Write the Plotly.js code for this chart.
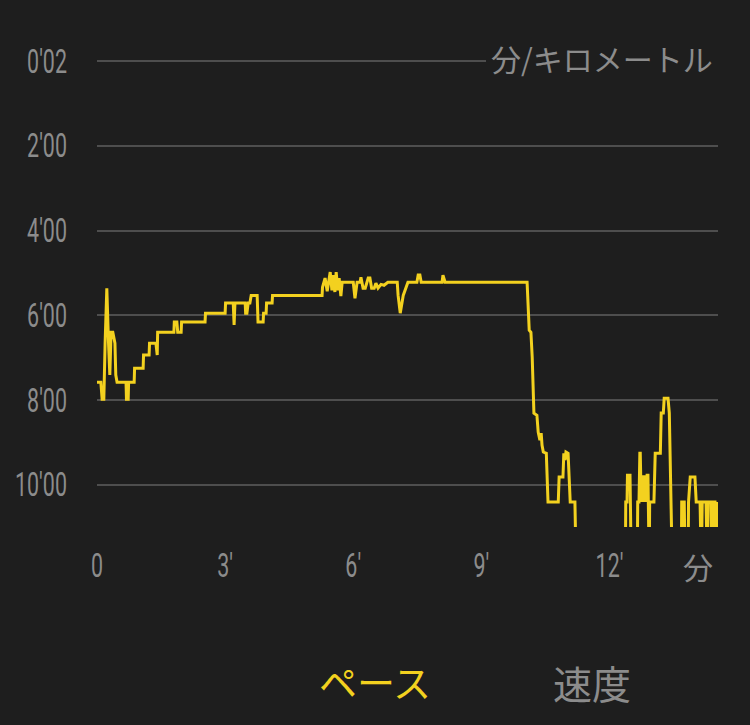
<!DOCTYPE html>
<html>
<head>
<meta charset="utf-8">
<script src="https://cdn.plot.ly/plotly-3.0.1.min.js"></script>
<style>
  html, body { margin: 0; padding: 0; background: #1e1e1e; }
  #chart { width: 750px; height: 725px; }
</style>
</head>
<body>
<div id="chart"></div>
<script>
// elapsed time (minutes)
const timeMin = [
  0, 0.09, 0.12, 0.16, 0.19, 0.23, 0.27, 0.30, 0.33, 0.37, 0.42, 0.44, 0.47,
  0.68, 0.69, 0.73, 0.74, 0.87, 0.88, 1.08, 1.09, 1.22, 1.23, 1.38, 1.41, 1.42,
  1.80, 1.81, 1.87, 1.89, 1.97, 1.98, 2.53, 2.54, 3.00, 3.01, 3.19, 3.21, 3.23,
  3.47, 3.48, 3.51, 3.54, 3.58, 3.61, 3.75, 3.77, 3.89, 3.90, 3.96, 3.97, 4.10, 4.11,
  5.27, 5.28, 5.34, 5.39, 5.46, 5.50, 5.53, 5.57, 5.60, 5.64, 5.67, 5.71, 5.74,
  6.00, 6.04, 6.09, 6.16, 6.18, 6.23, 6.28, 6.35, 6.39, 6.43, 6.49, 6.53, 6.58, 6.65, 6.72, 6.81,
  7.03, 7.05, 7.10, 7.17, 7.28, 7.49, 7.52, 7.56, 7.59, 8.08, 8.10, 8.15,
  10.07, 10.12, 10.16, 10.19, 10.23, 10.30, 10.33, 10.37, 10.40, 10.42, 10.45, 10.52, 10.56,
  10.80, 10.82, 10.91, 10.93, 10.96, 10.98, 11.03, 11.08, 11.19, 11.22,
  12.37, 12.38, 12.41, 12.42, 12.48, 12.51, 12.65, 12.66, 12.69, 12.71, 12.72, 12.73,
  12.76, 12.79, 12.81, 12.83, 12.86, 12.88, 12.90, 12.93, 12.94, 13.04, 13.07, 13.19,
  13.21, 13.26, 13.28, 13.37, 13.40, 13.47, 13.68, 13.69, 13.75, 13.77, 13.84, 13.85,
  13.89, 14.00, 14.03, 14.12, 14.15, 14.17, 14.26, 14.29, 14.31, 14.38, 14.40, 14.43,
  14.47, 14.50, 14.52
];
// pace (minutes per km)
const paceMin = [
  7.58, 7.58, 7.98, 7.98, 6.66, 5.36, 6.66, 7.41, 6.40, 6.40, 6.66, 7.41, 7.58,
  7.58, 7.98, 7.98, 7.58, 7.58, 7.25, 7.25, 6.94, 6.94, 6.66, 6.66, 6.94, 6.40,
  6.40, 6.16, 6.16, 6.40, 6.40, 6.16, 6.16, 5.95, 5.95, 5.71, 5.71, 6.23, 5.71,
  5.71, 5.95, 5.95, 5.71, 5.71, 5.53, 5.53, 6.16, 6.16, 5.95, 5.95, 5.71, 5.71, 5.53,
  5.53, 5.34, 5.12, 5.43, 4.98, 5.41, 5.05, 5.45, 4.98, 5.41, 5.12, 5.55, 5.22,
  5.22, 5.60, 5.22, 5.22, 5.10, 5.36, 5.36, 5.12, 5.12, 5.36, 5.36, 5.24, 5.36, 5.27, 5.29, 5.22,
  5.22, 5.53, 5.95, 5.53, 5.22, 5.22, 5.05, 5.05, 5.22, 5.22, 5.05, 5.22,
  5.22, 6.35, 6.40, 6.99, 8.31, 8.36, 8.76, 8.95, 8.78, 9.07, 9.23, 9.26, 10.41,
  10.41, 9.82, 9.82, 9.26, 9.42, 9.23, 9.26, 10.41, 10.41, 12,
  12, 10.41, 10.41, 9.78, 9.78, 12, 12, 10.41, 10.41, 9.26, 9.26, 9.78,
  10.41, 9.78, 10.41, 9.78, 10.41, 9.78, 9.78, 12, 10.41, 10.41, 9.26, 9.26,
  8.31, 8.31, 7.96, 7.96, 8.31, 12, 12, 10.41, 10.41, 12, 12, 10.41,
  9.82, 9.82, 10.41, 10.41, 12, 10.41, 10.41, 12, 10.41, 10.41, 12, 10.41,
  10.41, 12, 10.41
];
const yTickVals = [0, 2, 4, 6, 8, 10];
const yTickText = ["0'02", "2'00", "4'00", "6'00", "8'00", "10'00"];
const xTickVals = [0, 3, 6, 9, 12];
const xTickText = ["0", "3′", "6′", "9′", "12′"];

const BG = '#1e1e1e';
const GRAY = '#8c8c8c';
const YELLOW = '#f3d11f';
const CJK = '"Noto Sans CJK JP", "Noto Sans CJK SC", sans-serif';
const NUMFONT = 'Roboto, "Liberation Sans", sans-serif';
const NUMSIZE = 33;
const NARROW = 0.65;   // horizontal condensing of the numeric tick labels

const trace = {
  x: timeMin, y: paceMin, type: 'scatter', mode: 'lines',
  line: { color: YELLOW, width: 3 },
  hoverinfo: 'skip'
};

const layout = {
  width: 750, height: 725,
  paper_bgcolor: BG, plot_bgcolor: BG,
  margin: { l: 97, r: 32, t: 57, b: 198 },
  showlegend: false,
  xaxis: {
    range: [0, 14.54], showgrid: false, zeroline: false, showline: false,
    tickvals: xTickVals, ticktext: xTickText, ticks: '',
    ticklabelstandoff: 16,
    tickfont: { family: NUMFONT, size: NUMSIZE, color: GRAY },
    fixedrange: true
  },
  yaxis: {
    range: [11, -0.1], showgrid: true, gridcolor: '#4e4e4e', gridwidth: 2,
    zeroline: false, showline: false,
    tickvals: yTickVals, ticktext: yTickText, ticks: '',
    ticklabelstandoff: 29,
    tickfont: { family: NUMFONT, size: NUMSIZE, color: GRAY },
    fixedrange: true
  },
  annotations: [
    { text: '分/キロメートル', xref: 'paper', yref: 'y', x: 1, y: 0, yshift: 3,
      xanchor: 'right', yanchor: 'middle', showarrow: false,
      bgcolor: BG, borderpad: 5, borderwidth: 0,
      font: { family: CJK, size: 30, color: GRAY } },
    { text: '分', xref: 'paper', yref: 'paper', x: (698 - 97) / 621, y: -0.083,
      xanchor: 'center', yanchor: 'middle', showarrow: false,
      font: { family: CJK, size: 30, color: GRAY } },
    { text: 'ペース', xref: 'paper', yref: 'paper', x: (375 - 97) / 621, y: -0.326,
      xanchor: 'center', yanchor: 'middle', showarrow: false,
      font: { family: CJK, size: 38, color: YELLOW } },
    { text: '速度', xref: 'paper', yref: 'paper', x: (592 - 97) / 621, y: -0.330,
      xanchor: 'center', yanchor: 'middle', showarrow: false,
      font: { family: CJK, size: 39, color: GRAY } }
  ]
};

Plotly.newPlot('chart', [trace], layout, { staticPlot: true, displayModeBar: false })
  .then(function (gd) {
    // condense numeric tick labels around their anchor point
    gd.querySelectorAll('.xtick text, .ytick text').forEach(function (t) {
      const x = parseFloat(t.getAttribute('x') || 0);
      const y = parseFloat(t.getAttribute('y') || 0);
      const tr = t.getAttribute('transform') || '';
      t.setAttribute('transform', tr + ' translate(' + x + ',' + y + ') scale(' + NARROW + ',1) translate(' + (-x) + ',' + (-y) + ')');
    });
  });
</script>
</body>
</html>
